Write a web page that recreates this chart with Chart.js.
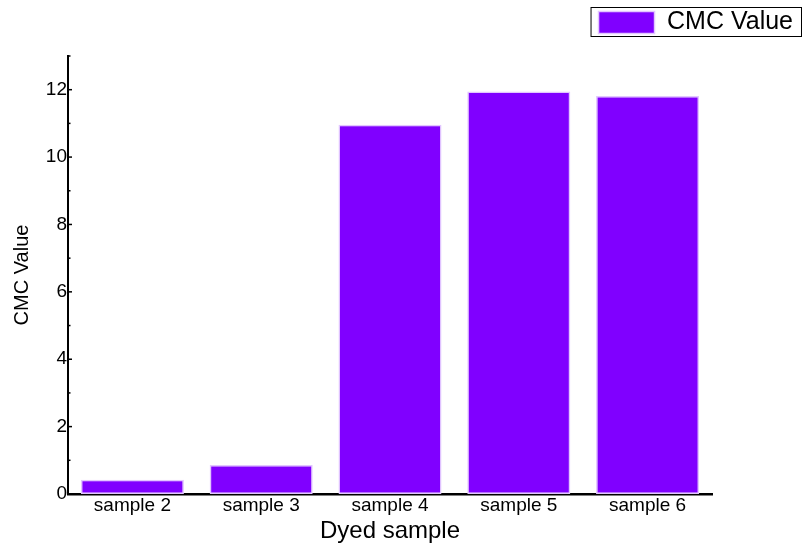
<!DOCTYPE html>
<html>
<head>
<meta charset="utf-8">
<script src="https://cdn.jsdelivr.net/npm/chart.js@4/dist/chart.umd.min.js"></script>
<style>
  html, body { margin: 0; padding: 0; background: #fff; }
  #wrap { width: 807px; height: 549px; }
</style>
</head>
<body>
<div id="wrap"><canvas id="chart"></canvas></div>
<script>
const samples = ['sample 2', 'sample 3', 'sample 4', 'sample 5', 'sample 6'];
const cmcValues = [0.42, 0.86, 10.96, 11.95, 11.81];
const yMajorTicks = [0, 2, 4, 6, 8, 10, 12];
const yMinorTicks = [1, 3, 5, 7, 9, 11, 13];

const fontFamily = '"Liberation Sans", Arial, sans-serif';

// small inward tick marks on the y axis + box round the legend
const extras = {
    id: 'extras',
    afterDraw(chart) {
        const ctx = chart.ctx;
        const y = chart.scales.y;
        const left = chart.chartArea.left;
        ctx.save();
        ctx.strokeStyle = '#000';
        ctx.lineWidth = 1.5;
        yMajorTicks.forEach(v => {
            const py = y.getPixelForValue(v);
            ctx.beginPath();
            ctx.moveTo(left, py);
            ctx.lineTo(left + 4, py);
            ctx.stroke();
        });
        yMinorTicks.forEach(v => {
            const py = y.getPixelForValue(v);
            ctx.beginPath();
            ctx.moveTo(left, py);
            ctx.lineTo(left + 2.5, py);
            ctx.stroke();
        });

        const hb = chart.legend.legendHitBoxes[0];
        if (hb) {
            ctx.lineWidth = 1;
            ctx.strokeStyle = '#000';
            ctx.strokeRect(hb.left - 7.5, hb.top - 2.5, hb.width + 16, hb.height + 4);
        }
        ctx.restore();
    }
};

new Chart(document.getElementById('chart'), {
    type: 'bar',
    data: {
        labels: samples,
        datasets: [{
            label: 'CMC Value',
            data: cmcValues,
            backgroundColor: '#8000ff',
            borderColor: '#e2c6ff',
            borderWidth: 1.5,
            borderSkipped: false,
            categoryPercentage: 0.8,
            barPercentage: 1.0
        }]
    },
    options: {
        responsive: true,
        maintainAspectRatio: false,
        animation: false,
        devicePixelRatio: 1,
        layout: { padding: { left: 0, top: 0, bottom: 0, right: 4 } },
        plugins: {
            tooltip: { enabled: false },
            legend: {
                position: 'top',
                align: 'end',
                labels: {
                    boxWidth: 56,
                    boxHeight: 22,
                    padding: 10,
                    color: '#000',
                    font: { family: fontFamily, size: 25 }
                }
            }
        },
        scales: {
            x: {
                grid: { display: false, drawTicks: false },
                border: { display: true, color: '#000', width: 2.5 },
                ticks: { color: '#000', padding: 0, maxRotation: 0, font: { family: fontFamily, size: 19 } },
                title: {
                    display: true,
                    text: 'Dyed sample',
                    color: '#000',
                    padding: { top: 0, bottom: 3 },
                    font: { family: fontFamily, size: 24 }
                },
                afterFit(scale) { scale.height = 55; }
            },
            xt: {
                position: 'top',
                type: 'category',
                labels: samples,
                grid: { display: false, drawTicks: false },
                border: { display: false },
                ticks: { display: false },
                afterFit(scale) { scale.height = 11; }
            },
            y: {
                min: 0,
                max: 13,
                grid: { display: false, drawTicks: false },
                border: { display: true, color: '#000', width: 2 },
                ticks: { color: '#000', padding: 1, font: { family: fontFamily, size: 19 } },
                afterBuildTicks(scale) {
                    scale.ticks = yMajorTicks.map(v => ({ value: v }));
                },
                title: {
                    display: true,
                    text: 'CMC Value',
                    color: '#000',
                    padding: { top: 10, bottom: 0 },
                    font: { family: fontFamily, size: 20 }
                },
                afterFit(scale) { scale.width = 68; }
            },
            yr: {
                position: 'right',
                min: 0,
                max: 13,
                grid: { display: false, drawTicks: false },
                border: { display: false },
                ticks: { display: false },
                afterFit(scale) { scale.width = 91; }
            }
        }
    },
    plugins: [extras]
});
</script>
</body>
</html>
